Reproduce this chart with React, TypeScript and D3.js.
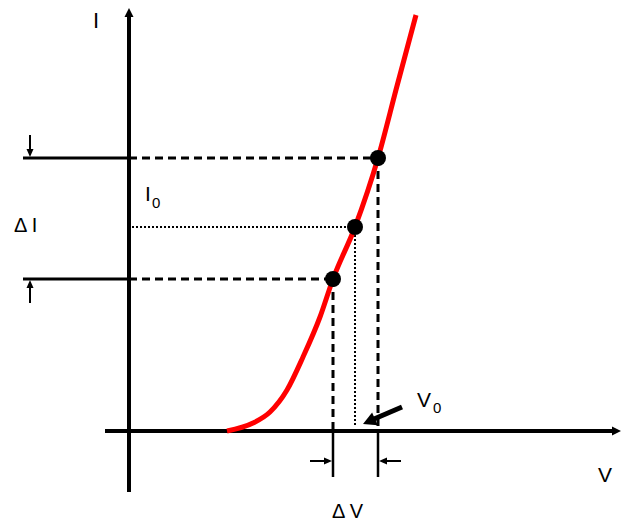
import React from "react";
import * as d3 from "d3";

// Diode I-V characteristic (arbitrary units)
const curveV = [1.96, 2.48, 2.82, 3.16, 3.48, 3.82, 4.08, 4.52, 4.98, 5.36, 5.74];
const curveI = [0, 0.2, 0.475, 1.025, 1.85, 2.85, 3.8, 5.1, 6.825, 8.625, 10.4];

// Operating points: lower, middle (V0, I0), upper
const markerV = [4.08, 4.52, 4.98];
const markerI = [3.8, 5.1, 6.825];

const axisLabels = ["I", "V"];

const W = 625;
const H = 530;
const x = d3.scaleLinear().domain([0, 10]).range([129, 629]);
const y = d3.scaleLinear().domain([0, 10]).range([431, 31]);

const FONT = "'Liberation Sans', Arial, sans-serif";

function head(tx: number, ty: number, dx: number, dy: number, len: number, half: number) {
  // arrowhead with tip at (tx,ty) pointing in direction (dx,dy)
  const n = Math.hypot(dx, dy);
  const ux = dx / n, uy = dy / n;
  const bx = tx - ux * len, by = ty - uy * len;
  const px = -uy, py = ux;
  return `${tx},${ty} ${bx + px * half},${by + py * half} ${bx - px * half},${by - py * half}`;
}

export default function App() {
  const pts: [number, number][] = curveV.map((v, i) => [x(v), y(curveI[i])]);
  const line = d3.line<[number, number]>().curve(d3.curveMonotoneX)(pts) || "";

  const x0 = x(0), y0 = y(0);
  const [xl, xm, xu] = markerV.map((v) => x(v));
  const [yl, ym, yu] = markerI.map((v) => y(v));

  const dash = "8 5";
  const dot = "2 2";

  return (
    <svg width={W} height={H} style={{ position: "absolute", left: 0, top: 0, background: "#fff" }}>
      {/* axes */}
      <line x1={x0} y1={492} x2={x0} y2={14} stroke="#000" strokeWidth={4} />
      <polygon points={head(x0, 8, 0, -1, 9, 4.5)} fill="#000" />
      <line x1={105} y1={y0} x2={614} y2={y0} stroke="#000" strokeWidth={4} />
      <polygon points={head(621, y0, 1, 0, 9, 4.5)} fill="#000" />

      {/* solid ticks left of I axis */}
      <line x1={23} y1={yu} x2={x0} y2={yu} stroke="#000" strokeWidth={3} />
      <line x1={23} y1={yl} x2={x0} y2={yl} stroke="#000" strokeWidth={3} />

      {/* dashed guides */}
      <line x1={x0} y1={yu} x2={xu} y2={yu} stroke="#000" strokeWidth={3} strokeDasharray={dash} />
      <line x1={x0} y1={yl} x2={xl} y2={yl} stroke="#000" strokeWidth={3} strokeDasharray={dash} />
      <line x1={xu} y1={yu} x2={xu} y2={y0} stroke="#000" strokeWidth={3} strokeDasharray={dash} />
      <line x1={xl} y1={yl} x2={xl} y2={y0} stroke="#000" strokeWidth={3} strokeDasharray={dash} />

      {/* dotted guides */}
      <line x1={x0 + 3} y1={ym} x2={xm} y2={ym} stroke="#000" strokeWidth={2} strokeDasharray={dot} />
      <line x1={xm} y1={ym} x2={xm} y2={y0 - 4} stroke="#000" strokeWidth={2} strokeDasharray={dot} />

      {/* solid extensions below V axis */}
      <line x1={xl} y1={y0} x2={xl} y2={477} stroke="#000" strokeWidth={2.5} />
      <line x1={xu} y1={y0} x2={xu} y2={477} stroke="#000" strokeWidth={2.5} />

      {/* ΔI arrows */}
      <line x1={30} y1={135} x2={30} y2={150} stroke="#000" strokeWidth={2} />
      <polygon points={head(30, yu - 1, 0, 1, 8, 3.5)} fill="#000" />
      <line x1={30} y1={303} x2={30} y2={288} stroke="#000" strokeWidth={2} />
      <polygon points={head(30, yl + 1, 0, -1, 8, 3.5)} fill="#000" />

      {/* ΔV arrows */}
      <line x1={310} y1={461} x2={324} y2={461} stroke="#000" strokeWidth={2} />
      <polygon points={head(xl - 1, 461, 1, 0, 8, 3.5)} fill="#000" />
      <line x1={401} y1={461} x2={387} y2={461} stroke="#000" strokeWidth={2} />
      <polygon points={head(xu + 1, 461, -1, 0, 8, 3.5)} fill="#000" />

      {/* V0 pointer */}
      <line x1={402} y1={407} x2={374} y2={419} stroke="#000" strokeWidth={5} />
      <polygon points={head(363, 424, -39, 17, 13, 7)} fill="#000" />

      {/* curve */}
      <path d={line} fill="none" stroke="#ff0000" strokeWidth={5} />

      {/* markers */}
      {markerV.map((v, i) => (
        <circle key={i} cx={x(v)} cy={y(markerI[i])} r={8} fill="#000" />
      ))}

      {/* labels */}
      <g fontFamily={FONT} fill="#000">
        <text x={93} y={28} fontSize={22}>{axisLabels[0]}</text>
        <text x={598} y={482} fontSize={21}>{axisLabels[1]}</text>
        <text x={14} y={232} fontSize={20}>Δ I</text>
        <text x={332} y={518} fontSize={20}>Δ V</text>
        <text x={145} y={201} fontSize={21}>I</text>
        <text x={152} y={208} fontSize={15}>0</text>
        <text x={417} y={407} fontSize={21}>V</text>
        <text x={433} y={413} fontSize={15}>0</text>
      </g>
    </svg>
  );
}
